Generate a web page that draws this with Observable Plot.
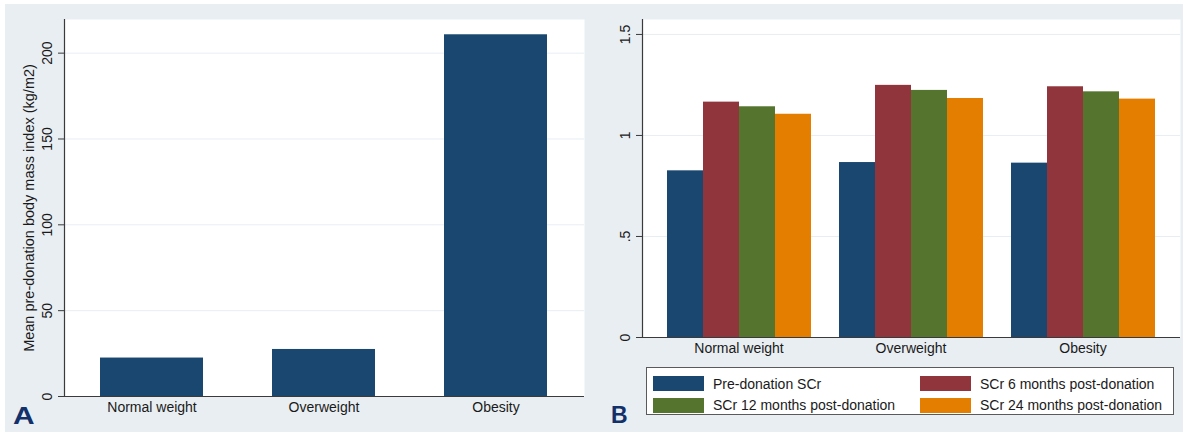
<!DOCTYPE html>
<html>
<head>
<meta charset="utf-8">
<script src="https://cdn.jsdelivr.net/npm/d3@7"></script>
<script src="https://cdn.jsdelivr.net/npm/@observablehq/plot@0.6"></script>
<style>
  html, body { margin: 0; padding: 0; background: #ffffff; }
  #root { position: relative; width: 1188px; height: 432px; overflow: hidden; font-family: "Liberation Sans", Arial, Helvetica, sans-serif; }
  .bg { position: absolute; left: 5px; top: 4px; width: 1178px; height: 428px; background: #e8eef2; }
  .layer { position: absolute; top: 0; }
  .layer svg { display: block; }
  .letter { position: absolute; font-weight: bold; font-size: 23px; line-height: 23px; color: #12306a; }
  .legend { position: absolute; left: 646px; top: 367px; width: 528px; height: 48px; box-sizing: border-box;
            border: 1px solid #5a5a5a; background: #ffffff; display: grid; grid-template-columns: 267px 1fr;
            grid-auto-rows: 21.5px; padding: 5px 0 0 6px; font-size: 14px; color: #1a1a1a; }
  .legend .item { display: flex; align-items: center; white-space: nowrap; }
  .legend .sw { width: 51px; height: 15px; margin-right: 9px; flex: none; }
</style>
</head>
<body>
<div id="root">
  <div class="bg"></div>
</div>
<script>
// ---------- Data ----------
const groups = ["Normal weight", "Overweight", "Obesity"];

// Panel A: mean pre-donation BMI (kg/m2)
const bmiMeans = [22.4, 27.4, 210.7];
const yTicksA = [0, 50, 100, 150, 200];
const yTickLabelsA = ["0", "50", "100", "150", "200"];
const yTitleA = ["Mean pre-donation body mass index (kg/m2)"];

// Panel B: serum creatinine
const seriesB = ["Pre-donation SCr", "SCr 6 months post-donation", "SCr 12 months post-donation", "SCr 24 months post-donation"];
const preDonation = [0.825, 0.866, 0.863];
const scr6 = [1.165, 1.248, 1.241];
const scr12 = [1.142, 1.223, 1.216];
const scr24 = [1.105, 1.183, 1.180];
const yTicksB = [0, 0.5, 1, 1.5];
const yTickLabelsB = ["0", ".5", "1", "1.5"];

const colorsB = ["#1a476f", "#90353b", "#55752f", "#e37e00"];
const navy = "#1a476f";
const panelLetters = ["A", "B"];

// ---------- Tables ----------
const dataA = groups.map((g, i) => ({group: g, value: bmiMeans[i]}));
const seriesValues = [preDonation, scr6, scr12, scr24];
const dataB = [];
groups.forEach((g, gi) => seriesB.forEach((s, si) => dataB.push({group: g, series: s, value: seriesValues[si][gi]})));

const root = document.getElementById("root");
const font = "'Liberation Sans', Arial, Helvetica, sans-serif";
const axisColor = "#3a3a3a";
const gridColor = "#e7eef1";
const baseStyle = {fontFamily: font, fontSize: "14px", color: "#1a1a1a", background: "transparent", overflow: "visible"};

function addLayer(svg, left) {
  const d = document.createElement("div");
  d.className = "layer";
  d.style.left = left + "px";
  d.appendChild(svg);
  root.appendChild(d);
}

// ---------- Panel A ----------
const A = {width: 592, height: 432, marginTop: 19, marginLeft: 64, marginRight: 8, marginBottom: 36};
const yDomainA = [0, 219.6];

const bgA = Plot.plot({
  ...A,
  style: baseStyle,
  x: {domain: [0, 1], axis: null},
  y: {domain: yDomainA, axis: null},
  marks: [
    Plot.frame({fill: "white", stroke: "none"}),
    Plot.gridY(yTicksA.filter(d => d > 0), {stroke: gridColor, strokeOpacity: 1, strokeWidth: 1}),
    Plot.axisY(yTicksA, {anchor: "left", tickSize: 6, tickPadding: 7, tickRotate: -90, stroke: axisColor,
      tickFormat: d => yTickLabelsA[yTicksA.indexOf(d)], fontSize: 14, fill: "#1a1a1a", label: null}),
    Plot.text(yTitleA, {frameAnchor: "left", dx: -35, rotate: -90, textAnchor: "middle", fontSize: 14.5, fill: "#1a1a1a"}),
    Plot.ruleX([0], {stroke: axisColor, strokeWidth: 1.2}),
    Plot.ruleY([0], {stroke: axisColor, strokeWidth: 1.2})
  ]
});
addLayer(bgA, 0);

const fgA = Plot.plot({
  ...A,
  style: baseStyle,
  x: {domain: groups, paddingInner: 0.4, paddingOuter: 0.21, axis: null},
  y: {domain: yDomainA, axis: null},
  marks: [
    Plot.barY(dataA, {x: "group", y: "value", fill: navy, inset: 0}),
    Plot.ruleY([0], {stroke: axisColor, strokeWidth: 1.2}),
    Plot.axisX({anchor: "bottom", tickSize: 0, tickPadding: 6, fontSize: 14, fill: "#1a1a1a", label: null})
  ]
});
addLayer(fgA, 0);

// ---------- Panel B ----------
const B = {width: 596, height: 432, marginTop: 19, marginLeft: 50, marginRight: 8, marginBottom: 95};
const yDomainB = [0, 1.574];

const bgB = Plot.plot({
  ...B,
  style: baseStyle,
  x: {domain: [0, 1], axis: null},
  y: {domain: yDomainB, axis: null},
  marks: [
    Plot.frame({fill: "white", stroke: "none"}),
    Plot.gridY(yTicksB.filter(d => d > 0), {stroke: gridColor, strokeOpacity: 1, strokeWidth: 1}),
    Plot.axisY(yTicksB, {anchor: "left", tickSize: 6, tickPadding: 7, tickRotate: -90, stroke: axisColor,
      tickFormat: d => yTickLabelsB[yTicksB.indexOf(d)], fontSize: 14, fill: "#1a1a1a", label: null}),
    Plot.ruleX([0], {stroke: axisColor, strokeWidth: 1.2})
  ]
});
addLayer(bgB, 592);

const fgB = Plot.plot({
  ...B,
  style: baseStyle,
  fx: {domain: groups, paddingInner: 0.144, paddingOuter: 0.13},
  x: {domain: seriesB, padding: 0, axis: null},
  y: {domain: yDomainB, axis: null},
  color: {domain: seriesB, range: colorsB},
  marks: [
    Plot.barY(dataB, {fx: "group", x: "series", y: "value", fill: "series", inset: 0}),
    Plot.axisFx({anchor: "bottom", tickSize: 0, tickPadding: 6, fontSize: 14, fill: "#1a1a1a", label: null})
  ]
});
addLayer(fgB, 592);

// baseline across the whole plot area of panel B (drawn on top of bars)
const baseB = Plot.plot({
  ...B,
  style: baseStyle,
  x: {domain: [0, 1], axis: null},
  y: {domain: yDomainB, axis: null},
  marks: [Plot.ruleY([0], {stroke: axisColor, strokeWidth: 1.2})]
});
addLayer(baseB, 592);

// ---------- Legend (panel B) ----------
const legend = document.createElement("div");
legend.className = "legend";
seriesB.forEach((s, i) => {
  const item = document.createElement("div");
  item.className = "item";
  const sw = document.createElement("span");
  sw.className = "sw";
  sw.style.background = colorsB[i];
  const t = document.createElement("span");
  t.textContent = s;
  item.appendChild(sw);
  item.appendChild(t);
  legend.appendChild(item);
});
root.appendChild(legend);

// ---------- Panel letters ----------
const letterPos = [{left: 13, top: 405, scale: 1.3}, {left: 611, top: 404, scale: 1.0}];
panelLetters.forEach((l, i) => {
  const d = document.createElement("div");
  d.className = "letter";
  d.textContent = l;
  d.style.left = letterPos[i].left + "px";
  d.style.top = letterPos[i].top + "px";
  d.style.transform = `scaleX(${letterPos[i].scale})`;
  d.style.transformOrigin = "left top";
  root.appendChild(d);
});
</script>
</body>
</html>
